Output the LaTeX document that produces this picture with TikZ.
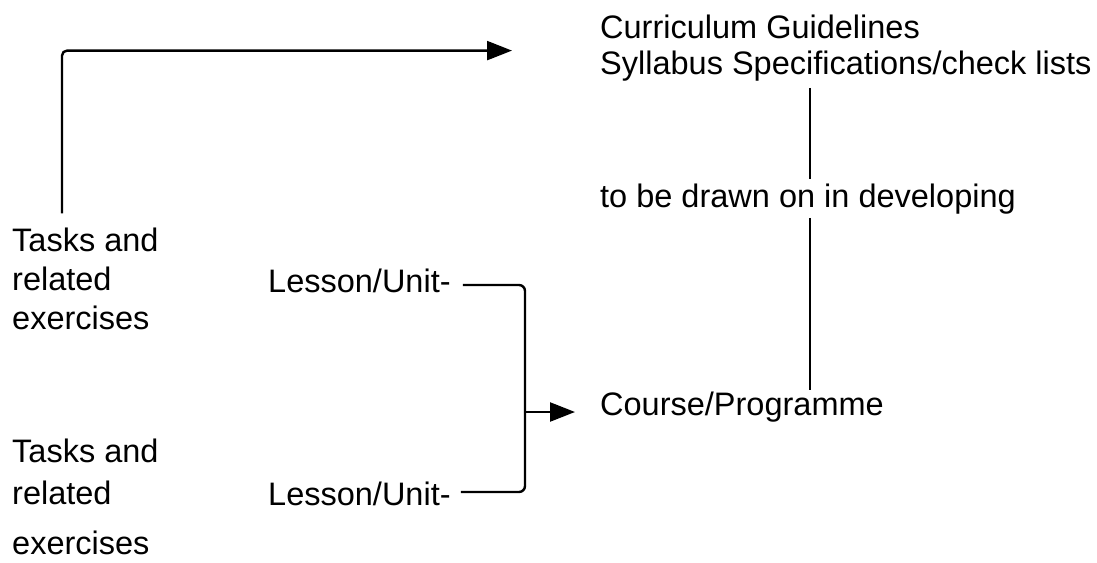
\documentclass[tikz,border=0pt]{standalone}
\usepackage{fontspec}
\setmainfont{Liberation Sans}
\usetikzlibrary{arrows.meta}
\begin{document}
\begin{tikzpicture}[x=1pt,y=-1pt,
  lbl/.style={font=\fontsize{32.5}{36}\selectfont, inner sep=0pt, anchor=base west, align=left},
  conn/.style={line width=2.4pt, line join=round},
  tip/.style={-{Triangle[length=25pt,width=19pt]}}]
\useasboundingbox (0,0) rectangle (1097,562);
% texts (base anchor = baseline of last line)
\node[lbl] (cg) at (600,74) {Curriculum Guidelines\\Syllabus Specifications/check lists};
\node[lbl] (dr) at (600,207) {to be drawn on in developing};
\node[lbl] (course) at (600,415) {Course/Programme};
\node[lbl] (lu1) at (268,292) {Lesson/Unit-};
\node[lbl] (lu2) at (268,505) {Lesson/Unit-};
\node[lbl, font=\fontsize{32.5}{39}\selectfont] (t1) at (12,329) {Tasks and\\related\\exercises};
\node[lbl, font=\fontsize{32.5}{42}\selectfont] (t2) at (12,554) {Tasks and\\related\\[8pt]exercises};
\coordinate (j) at (525,412);
% connectors
\draw[conn,tip,rounded corners=5pt] ([shift={(50pt,14pt)}]t1.north west) |- ([shift={(-88pt,-3pt)}]cg.west);
\draw[conn,rounded corners=6pt] ([shift={(12pt,7pt)}]lu1.base east) -| (j);
\draw[conn,rounded corners=6pt] ([shift={(10pt,13pt)}]lu2.base east) -| (j);
\draw[conn,tip] (j) -- ([shift={(-25pt,3pt)}]course.base west);
\draw[conn] ([shift={(210pt,-7pt)}]cg.south west) -- ([shift={(210pt,4pt)}]dr.north west);
\draw[conn] ([shift={(210pt,-4pt)}]dr.south west) -- ([shift={(210pt,1pt)}]course.north west);
\end{tikzpicture}
\end{document}
